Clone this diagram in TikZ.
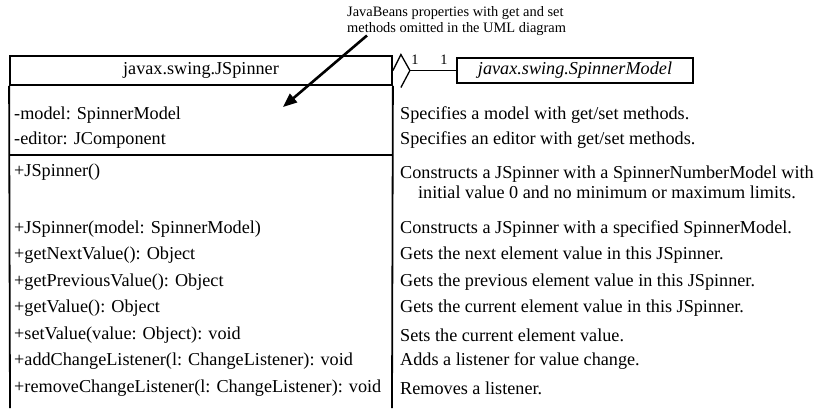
\documentclass[tikz,border=0pt]{standalone}
\usepackage{fontspec}
\setmainfont{Liberation Serif}
\usetikzlibrary{arrows.meta, positioning}

\begin{document}
\begin{tikzpicture}[
  x=1pt, y=-1pt,
  every node/.style={font=\fontsize{18.2}{22}\selectfont, inner sep=0pt},
  row/.style={anchor=west},
  umlbox/.style={draw, line width=1.8pt},
  small/.style={font=\fontsize{14.4}{16}\selectfont},
  link/.style={line width=1.3pt}
]
  \useasboundingbox (0,0) rectangle (815,408);

  % JSpinner class
  \node[umlbox, minimum width=382pt, minimum height=29pt] (title) at (201,70.5) {javax.swing.JSpinner};
  \draw[line width=1.8pt] (title.south west) -- (10,408) (title.south east) -- (392,408);
  \draw[line width=1.8pt] (10,155) -- (392,155);

  \foreach \yy/\lbl [count=\i] in {115/{-model: SpinnerModel}, 140/{-editor: JComponent}} {
    \node[row] (a\i) at (14,\yy) {\lbl};
  }
  \foreach \yy/\lbl [count=\i] in {172/{+JSpinner()}, 229/{+JSpinner(model: SpinnerModel)},
      255.5/{+getNextValue(): Object}, 282/{+getPreviousValue(): Object},
      308.5/{+getValue(): Object}, 335/{+setValue(value: Object): void},
      361.5/{+addChangeListener(l: ChangeListener): void},
      388/{+removeChangeListener(l: ChangeListener): void}} {
    \node[row] (m\i) at (14,\yy) {\lbl};
  }

  % descriptions
  \foreach \yy/\lbl [count=\i] in {115/{Specifies a model with get/set methods.},
      140/{Specifies an editor with get/set methods.},
      229/{Constructs a JSpinner with a specified SpinnerModel.},
      255.5/{Gets the next element value in this JSpinner.},
      282/{Gets the previous element value in this JSpinner.},
      308.5/{Gets the current element value in this JSpinner.},
      335/{Sets the current element value.},
      361.5/{Adds a listener for value change.},
      388/{Removes a listener.}} {
    \node[row] (d\i) at (400,\yy) {\lbl};
  }
  \node[row, align=center, font=\fontsize{18.2}{20}\selectfont] (dnum) at (400,182)
    {Constructs a JSpinner with a SpinnerNumberModel with\\initial value 0 and no minimum or maximum limits.};

  % SpinnerModel and aggregation
  \node[umlbox, minimum width=236pt, minimum height=25pt,
    font=\fontsize{18.2}{22}\selectfont\itshape] (model) at (575,70.5) {javax.swing.SpinnerModel};
  \coordinate[right=17pt of title.east] (dtip);
  \draw[link] (title.east) -- ++(8,-16) -- (dtip) -- ++(-9,17);
  \draw[link] (dtip) -- (model.west);
  \node[small] (n1) at (415,60) {1};
  \node[small] (n2) at (444,60) {1};

  % note
  \node[small, align=left, anchor=north west] (note) at (347,6)
    {JavaBeans properties with get and set\\methods omitted in the UML diagram};
  \coordinate[right=20pt of note.south west] (astart);
  \coordinate (atip) at (283,107);
  \draw[-{Triangle[length=14pt,width=11pt]}, line width=2.6pt] (astart) -- (atip);
\end{tikzpicture}
\end{document}
